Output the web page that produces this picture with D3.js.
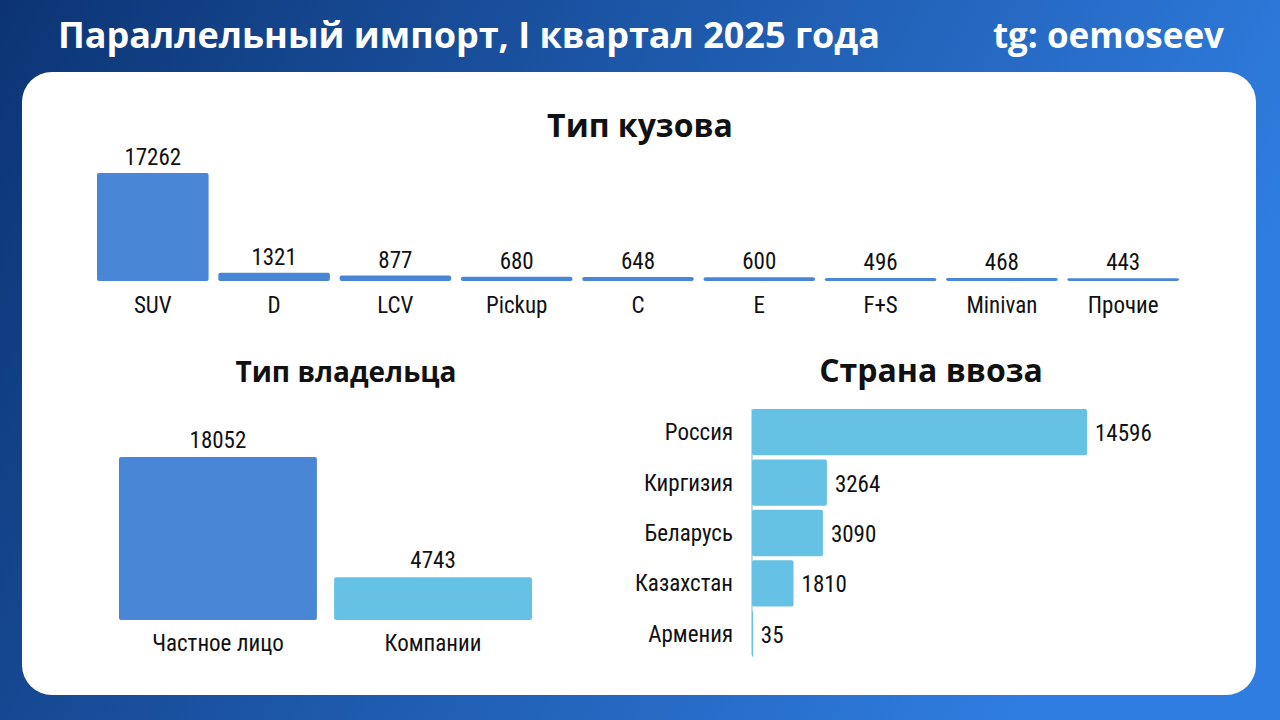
<!DOCTYPE html>
<html>
<head>
<meta charset="utf-8">
<script src="https://cdn.jsdelivr.net/npm/d3@7"></script>
<style>
  body { margin: 0; }
  svg { display: block; }
</style>
</head>
<body>
<script>
// data
const bodyTypes = ['SUV', 'D', 'LCV', 'Pickup', 'C', 'E', 'F+S', 'Minivan', 'Прочие'];
const bodyValues = [17262, 1321, 877, 680, 648, 600, 496, 468, 443];

const ownerTypes = ['Частное лицо', 'Компании'];
const ownerValues = [18052, 4743];

const countries = ['Россия', 'Киргизия', 'Беларусь', 'Казахстан', 'Армения'];
const countryValues = [14596, 3264, 3090, 1810, 35];

const W = 1280, H = 720;
const blue = '#4a86d6', cyan = '#66c2e4';
const narrow = '"Liberation Sans Narrow", "Roboto Condensed", Roboto, sans-serif';
const bold = '"Open Sans", "Noto Sans", sans-serif';

const svg = d3.select('body').append('svg')
  .attr('width', W)
  .attr('height', H);

// background gradient
const grad = svg.append('defs').append('linearGradient')
  .attr('id', 'bg').attr('x1', 0).attr('x2', 1).attr('y1', 0).attr('y2', 0.3);
grad.append('stop').attr('offset', '0%').attr('stop-color', '#0c3474');
grad.append('stop').attr('offset', '100%').attr('stop-color', '#2f7de0');

svg.append('rect').attr('width', W).attr('height', H).attr('fill', 'url(#bg)');
svg.append('rect')
  .attr('x', 22).attr('y', 72).attr('width', 1234).attr('height', 623)
  .attr('rx', 30).attr('fill', '#fff');

svg.append('text')
  .attr('x', 58).attr('y', 48)
  .style('font-family', bold).style('font-weight', 700).style('font-size', '36px')
  .attr('fill', '#fff')
  .text('Параллельный импорт, I квартал 2025 года');
svg.append('text')
  .attr('x', 1224).attr('y', 48).attr('text-anchor', 'end')
  .style('font-family', bold).style('font-weight', 700).style('font-size', '35px')
  .attr('fill', '#fff')
  .text('tg: oemoseev');

function title(x, y, t, size) {
  svg.append('text')
    .attr('x', x).attr('y', y).attr('text-anchor', 'middle')
    .style('font-family', bold).style('font-weight', 700).style('font-size', size + 'px')
    .attr('fill', '#111')
    .text(t);
}

// body type chart
title(640, 137, 'Тип кузова', 32);
const x1 = d3.scaleBand().domain(bodyTypes).range([97, 1179]).paddingInner(0.08).paddingOuter(0);
const y1 = d3.scaleLinear().domain([0, 17262]).range([281, 173]);
const g1 = svg.append('g');
bodyTypes.forEach((c, i) => {
  const v = bodyValues[i];
  g1.append('rect')
    .attr('x', x1(c)).attr('y', y1(v))
    .attr('width', x1.bandwidth()).attr('height', 281 - y1(v))
    .attr('rx', 2).attr('fill', blue);
  g1.append('text')
    .attr('x', x1(c) + x1.bandwidth() / 2).attr('y', y1(v) - 8)
    .attr('text-anchor', 'middle')
    .style('font-family', narrow).style('font-size', '23px').attr('fill', '#111')
    .text(v);
  g1.append('text')
    .attr('x', x1(c) + x1.bandwidth() / 2).attr('y', 313)
    .attr('text-anchor', 'middle')
    .style('font-family', narrow).style('font-size', '23px').attr('fill', '#111')
    .text(c);
});

// owner chart
title(346, 382, 'Тип владельца', 28);
const x2 = d3.scaleBand().domain(ownerTypes).range([119, 532]).paddingInner(0.08).paddingOuter(0);
const y2 = d3.scaleLinear().domain([0, 18052]).range([620, 457]);
const g2 = svg.append('g');
ownerTypes.forEach((c, i) => {
  const v = ownerValues[i];
  g2.append('rect')
    .attr('x', x2(c)).attr('y', y2(v))
    .attr('width', x2.bandwidth()).attr('height', 620 - y2(v))
    .attr('rx', 2).attr('fill', i === 0 ? blue : cyan);
  g2.append('text')
    .attr('x', x2(c) + x2.bandwidth() / 2).attr('y', y2(v) - 9)
    .attr('text-anchor', 'middle')
    .style('font-family', narrow).style('font-size', '23px').attr('fill', '#111')
    .text(v);
  g2.append('text')
    .attr('x', x2(c) + x2.bandwidth() / 2).attr('y', 651)
    .attr('text-anchor', 'middle')
    .style('font-family', narrow).style('font-size', '23px').attr('fill', '#111')
    .text(c);
});

// country chart
title(931, 382, 'Страна ввоза', 32);
const y3 = d3.scaleBand().domain(countries).range([409, 657]).paddingInner(0.08).paddingOuter(0);
const x3 = d3.scaleLinear().domain([0, 14596]).range([752, 1087]);
const g3 = svg.append('g');
g3.append('line')
  .attr('x1', 752).attr('x2', 752).attr('y1', 409).attr('y2', 655)
  .attr('stroke', cyan).attr('stroke-width', 1);
countries.forEach((c, i) => {
  const v = countryValues[i];
  const cy = y3(c) + y3.bandwidth() / 2;
  g3.append('rect')
    .attr('x', 752).attr('y', y3(c))
    .attr('width', Math.max(1, x3(v) - 752)).attr('height', y3.bandwidth())
    .attr('rx', 2).attr('fill', cyan);
  g3.append('text')
    .attr('x', x3(v) + 8).attr('y', cy + 9)
    .style('font-family', narrow).style('font-size', '23px').attr('fill', '#111')
    .text(v);
  g3.append('text')
    .attr('x', 733).attr('y', cy + 8).attr('text-anchor', 'end')
    .style('font-family', narrow).style('font-size', '23px').attr('fill', '#111')
    .text(c);
});
</script>
</body>
</html>
